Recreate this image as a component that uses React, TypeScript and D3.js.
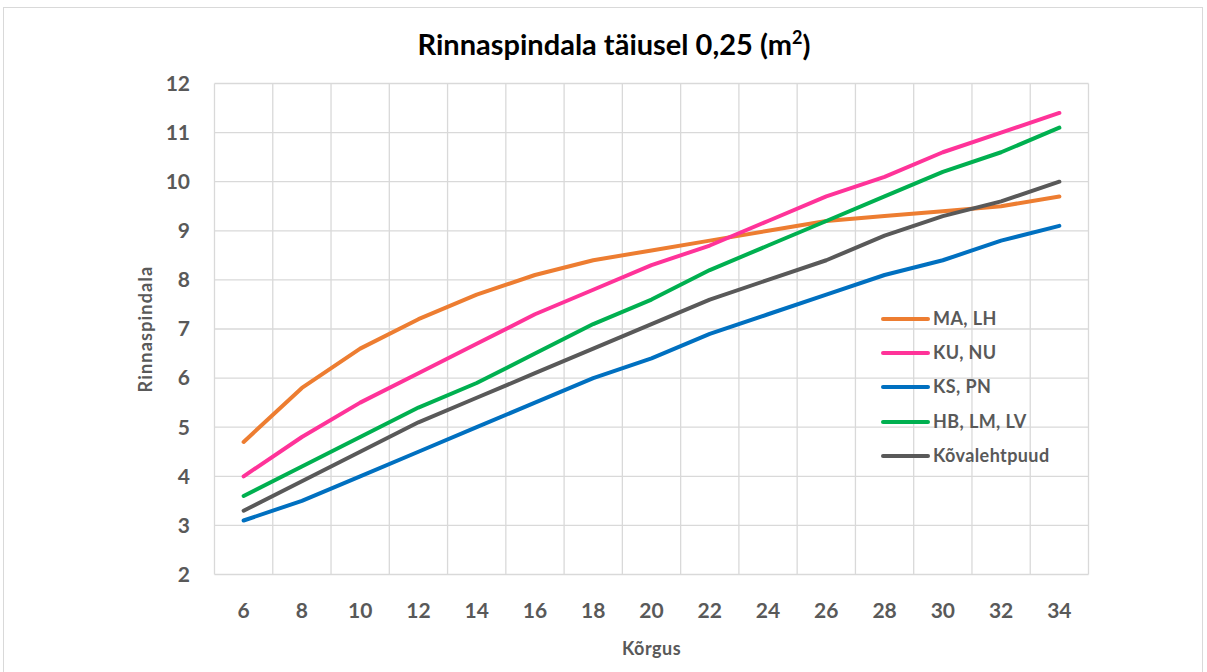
import React, { useEffect, useRef } from "react";
import * as d3 from "d3";

const categories = [6, 8, 10, 12, 14, 16, 18, 20, 22, 24, 26, 28, 30, 32, 34];
const seriesNames = ["MA, LH", "KU, NU", "KS, PN", "HB, LM, LV", "Kõvalehtpuud"];
const maLh = [4.7, 5.8, 6.6, 7.2, 7.7, 8.1, 8.4, 8.6, 8.8, 9.0, 9.2, 9.3, 9.4, 9.5, 9.7];
const kuNu = [4.0, 4.8, 5.5, 6.1, 6.7, 7.3, 7.8, 8.3, 8.7, 9.2, 9.7, 10.1, 10.6, 11.0, 11.4];
const ksPn = [3.1, 3.5, 4.0, 4.5, 5.0, 5.5, 6.0, 6.4, 6.9, 7.3, 7.7, 8.1, 8.4, 8.8, 9.1];
const hbLmLv = [3.6, 4.2, 4.8, 5.4, 5.9, 6.5, 7.1, 7.6, 8.2, 8.7, 9.2, 9.7, 10.2, 10.6, 11.1];
const kovalehtpuud = [3.3, 3.9, 4.5, 5.1, 5.6, 6.1, 6.6, 7.1, 7.6, 8.0, 8.4, 8.9, 9.3, 9.6, 10.0];
const yTicks = [2, 3, 4, 5, 6, 7, 8, 9, 10, 11, 12];
const colors = ["#ED7D31", "#FF3399", "#0070C0", "#00B050", "#595959"];

const W = 1207;
const H = 672;
const FONT = "Lato, 'Open Sans', sans-serif";

export default function App() {
  const ref = useRef<SVGSVGElement>(null);

  useEffect(() => {
    const svg = d3.select(ref.current);
    svg.selectAll("*").remove();

    const left = 214.5, right = 1088.5, top = 83.5, bottom = 574.5;
    const x = d3.scaleBand<number>().domain(categories).range([left, right]).paddingInner(0).paddingOuter(0);
    const y = d3.scaleLinear().domain([2, 12]).range([bottom, top]);

    svg.append("rect").attr("x", 0).attr("y", 0).attr("width", W).attr("height", H).attr("fill", "#fff");
    svg.append("rect").attr("x", 3.5).attr("y", 7.5).attr("width", 1199).attr("height", 680)
      .attr("fill", "none").attr("stroke", "#D9D9D9").attr("stroke-width", 1);

    const grid = svg.append("g");
    yTicks.forEach((t) => {
      grid.append("line").attr("x1", left).attr("x2", right).attr("y1", y(t)).attr("y2", y(t))
        .attr("stroke", "#D9D9D9").attr("stroke-width", 1.3);
    });
    const bounds = categories.map((c) => x(c)!).concat([right]);
    bounds.forEach((bx) => {
      grid.append("line").attr("x1", bx).attr("x2", bx).attr("y1", top).attr("y2", bottom)
        .attr("stroke", "#D9D9D9").attr("stroke-width", 1.3);
    });

    // y labels
    svg.append("g").selectAll("text").data(yTicks).join("text")
      .attr("x", 190).attr("y", (d) => y(d)).attr("dy", "0.35em").attr("text-anchor", "end")
      .attr("font-family", FONT).attr("font-weight", "bold").attr("font-size", 21).attr("fill", "#595959")
      .text((d) => d);

    // x labels
    svg.append("g").selectAll("text").data(categories).join("text")
      .attr("x", (d) => x(d)! + x.bandwidth() / 2).attr("y", 611).attr("dy", "0.35em").attr("text-anchor", "middle")
      .attr("font-family", FONT).attr("font-weight", "bold").attr("font-size", 21).attr("fill", "#595959")
      .text((d) => d);

    // axis titles
    svg.append("text").attr("x", (left + right) / 2).attr("y", 649).attr("dy", "0.35em").attr("text-anchor", "middle")
      .attr("font-family", FONT).attr("font-weight", "bold").attr("font-size", 18).attr("fill", "#595959")
      .attr("letter-spacing", 0.5).text("Kõrgus");
    svg.append("text").attr("transform", `translate(146,${(top + bottom) / 2}) rotate(-90)`).attr("dy", "0.35em")
      .attr("text-anchor", "middle")
      .attr("font-family", FONT).attr("font-weight", "bold").attr("font-size", 18).attr("fill", "#595959")
      .attr("letter-spacing", 1.2).text("Rinnaspindala");

    // title
    const title = svg.append("text").attr("x", 614).attr("y", 45).attr("dy", "0.35em").attr("text-anchor", "middle")
      .attr("font-family", FONT).attr("font-weight", "bold").attr("font-size", 29).attr("fill", "#000");
    title.append("tspan").text("Rinnaspindala täiusel 0,25 (m");
    title.append("tspan").attr("font-size", 18).attr("dy", "-0.6em").text("2");
    title.append("tspan").attr("dy", "0.4em").text(")");

    const allSeries = [maLh, kuNu, ksPn, hbLmLv, kovalehtpuud];
    const line = d3.line<number>()
      .x((_, i) => x(categories[i])! + x.bandwidth() / 2)
      .y((d) => y(d));
    allSeries.forEach((s, k) => {
      svg.append("path").attr("d", line(s)).attr("fill", "none").attr("stroke", colors[k])
        .attr("stroke-width", 4).attr("stroke-linecap", "round").attr("stroke-linejoin", "round");
    });

    // legend
    const legendY = [319, 353, 387, 422, 456];
    const lg = svg.append("g");
    seriesNames.forEach((name, k) => {
      lg.append("line").attr("x1", 883).attr("x2", 928).attr("y1", legendY[k]).attr("y2", legendY[k])
        .attr("stroke", colors[k]).attr("stroke-width", 4).attr("stroke-linecap", "round");
      lg.append("text").attr("x", 933).attr("y", legendY[k]).attr("dy", "0.35em")
        .attr("font-family", FONT).attr("font-weight", "bold").attr("font-size", 18).attr("fill", "#595959")
        .attr("letter-spacing", 0.4).text(name);
    });
  }, []);

  return (
    <svg ref={ref} width={W} height={H} style={{ position: "absolute", left: 0, top: 0 }} />
  );
}
